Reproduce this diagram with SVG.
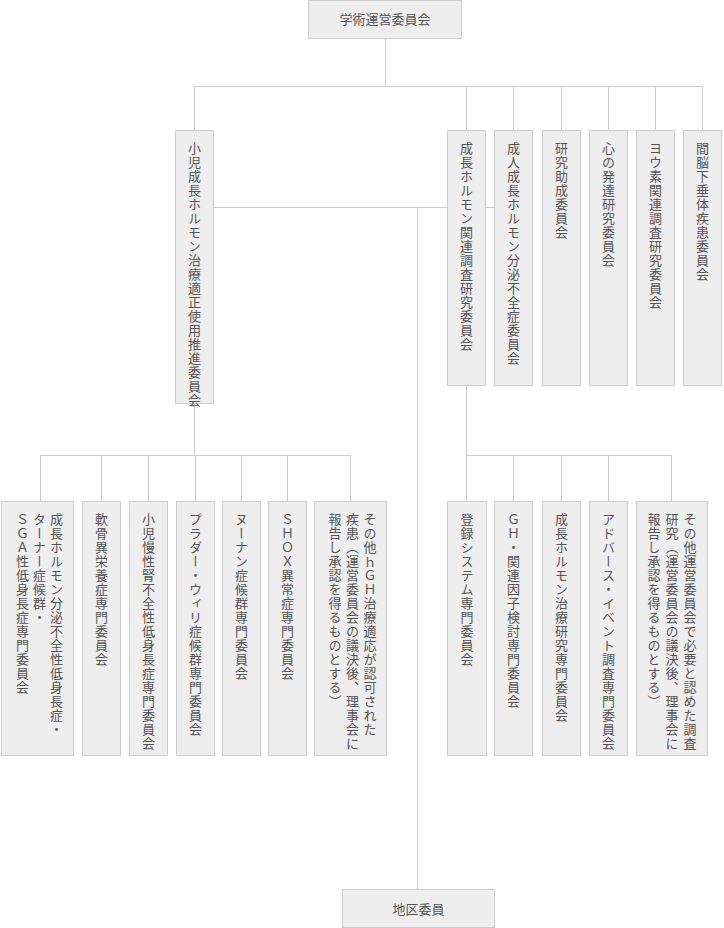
<svg xmlns="http://www.w3.org/2000/svg" width="724" height="928" viewBox="0 0 724 928">
<style>
.box{fill:#eeeeee;stroke:#cccccc;stroke-width:1}
.ln{stroke:#cccccc;stroke-width:1;fill:none}
.t{font-family:"Noto Sans CJK JP","Noto Sans CJK SC",sans-serif;font-size:13px;fill:#555555}
.h{text-anchor:middle}
.v{writing-mode:vertical-rl;letter-spacing:1px}
</style>
<rect width="724" height="928" fill="#ffffff"/>
<g id="connectors">
<path class="ln" d="M385.5 39V86.5M194.5 86.5H702.5M194.5 86V130M466.5 86V130M513.5 86V130M561.5 86V130M608.5 86V130M655.5 86V130M702.5 86V130"/>
<path class="ln" d="M214 207.5H494M417.5 207V889"/>
<path class="ln" d="M194.5 404V455.5M40.5 455.5H350.5M40.5 455V501M101.5 455V501M148.5 455V501M195.5 455V501M241.5 455V501M287.5 455V501M350.5 455V501"/>
<path class="ln" d="M466.5 386V501M466.5 455.5H671.5M513.5 455V501M561.5 455V501M608.5 455V501M671.5 455V501"/>
</g>
<g id="n-top"><rect class="box" x="308.5" y="0.5" width="153" height="38"/><text class="t h" x="385" y="24">学術運営委員会</text></g>
<g id="n-shoni"><rect class="box" x="175.5" y="130.5" width="38" height="273"/><text class="t v" x="194.5" y="142">小児成長ホルモン治療適正使用推進委員会</text></g>
<g id="n-gh"><rect class="box" x="447.5" y="130.5" width="38" height="255"/><text class="t v" x="466.5" y="142">成長ホルモン関連調査研究委員会</text></g>
<g id="n-adult"><rect class="box" x="494.5" y="130.5" width="38" height="255"/><text class="t v" x="513.5" y="142">成人成長ホルモン分泌不全症委員会</text></g>
<g id="n-josei"><rect class="box" x="542.5" y="130.5" width="38" height="255"/><text class="t v" x="561.5" y="142">研究助成委員会</text></g>
<g id="n-kokoro"><rect class="box" x="589.5" y="130.5" width="38" height="255"/><text class="t v" x="608.5" y="142">心の発達研究委員会</text></g>
<g id="n-youso"><rect class="box" x="636.5" y="130.5" width="38" height="255"/><text class="t v" x="655.5" y="142">ヨウ素関連調査研究委員会</text></g>
<g id="n-kanno"><rect class="box" x="683.5" y="130.5" width="38" height="255"/><text class="t v" x="702.5" y="142">間脳下垂体疾患委員会</text></g>
<g id="n-sga"><rect class="box" x="1.5" y="501.5" width="72" height="254"/><text class="t v" x="56.5" y="513">成長ホルモン分泌不全性低身長症・</text><text class="t v" x="39.5" y="513">ターナー症候群・</text><text class="t v" x="22.5" y="513">ＳＧＡ性低身長症専門委員会</text></g>
<g id="n-nankotsu"><rect class="box" x="82.5" y="501.5" width="38" height="254"/><text class="t v" x="101.5" y="513">軟骨異栄養症専門委員会</text></g>
<g id="n-jin"><rect class="box" x="129.5" y="501.5" width="38" height="254"/><text class="t v" x="148.5" y="513">小児慢性腎不全性低身長症専門委員会</text></g>
<g id="n-prader"><rect class="box" x="176.5" y="501.5" width="38" height="254"/><text class="t v" x="195.5" y="513">プラダー・ウィリ症候群専門委員会</text></g>
<g id="n-noonan"><rect class="box" x="222.5" y="501.5" width="38" height="254"/><text class="t v" x="241.5" y="513">ヌーナン症候群専門委員会</text></g>
<g id="n-shox"><rect class="box" x="268.5" y="501.5" width="38" height="254"/><text class="t v" x="287.5" y="513">ＳＨＯＸ異常症専門委員会</text></g>
<g id="n-other1"><rect class="box" x="314.5" y="501.5" width="72" height="254"/><text class="t v" x="370" y="513">その他ｈＧＨ治療適応が認可された</text><text class="t v" x="352.5" y="513">疾患（運営委員会の議決後、理事会に</text><text class="t v" x="335" y="513">報告し承認を得るものとする）</text></g>
<g id="n-touroku"><rect class="box" x="447.5" y="501.5" width="39" height="254"/><text class="t v" x="467" y="513">登録システム専門委員会</text></g>
<g id="n-inshi"><rect class="box" x="494.5" y="501.5" width="38" height="254"/><text class="t v" x="513.5" y="513">ＧＨ・関連因子検討専門委員会</text></g>
<g id="n-chiryo"><rect class="box" x="542.5" y="501.5" width="38" height="254"/><text class="t v" x="561.5" y="513">成長ホルモン治療研究専門委員会</text></g>
<g id="n-adverse"><rect class="box" x="589.5" y="501.5" width="38" height="254"/><text class="t v" x="608.5" y="513">アドバース・イベント調査専門委員会</text></g>
<g id="n-other2"><rect class="box" x="636.5" y="501.5" width="71" height="254"/><text class="t v" x="690" y="513">その他運営委員会で必要と認めた調査</text><text class="t v" x="672" y="513">研究（運営委員会の議決後、理事会に</text><text class="t v" x="654" y="513">報告し承認を得るものとする）</text></g>
<g id="n-chiku"><rect class="box" x="342.5" y="889.5" width="152" height="38"/><text class="t h" x="418.5" y="914">地区委員</text></g>
</svg>
